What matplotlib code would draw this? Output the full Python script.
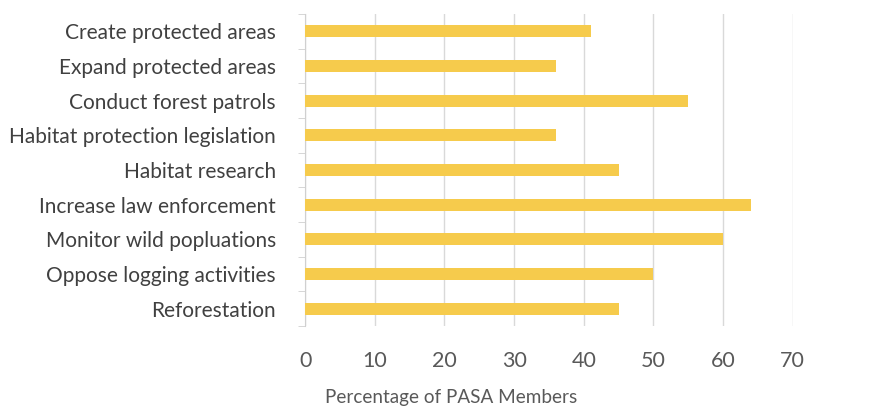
import matplotlib.pyplot as plt

# share of PASA members supporting each habitat action

actions = ['Create protected areas', 'Expand protected areas', 'Conduct forest patrols',
           'Habitat protection legislation', 'Habitat research', 'Increase law enforcement',
           'Monitor wild popluations', 'Oppose logging activities', 'Reforestation']
percent = [41, 36, 55, 36, 45, 64, 60, 50, 45]

plt.rcParams['font.family'] = ['Lato', 'DejaVu Sans']

fig = plt.figure(figsize=(8.72, 4.12), dpi=100)
ax = fig.add_axes([0.35, 0.209, 0.559, 0.757])

ypos = list(range(len(actions)))
ax.barh(ypos, percent, height=0.35, color='#f6cb4c', zorder=3)

ax.set_ylim(len(actions) - 0.5, -0.5)
ax.set_yticks(ypos)
ax.set_yticklabels(actions, fontsize=15, color='#404040')
ax.set_yticks([y - 0.5 for y in range(len(actions) + 1)], minor=True)
ax.tick_params(axis='y', which='major', length=0, pad=21)
ax.tick_params(axis='y', which='minor', length=5, color='#d0d0d0')

ax.set_xlim(0, 70)
ax.set_xticks(range(0, 71, 10))
ax.tick_params(axis='x', length=0, pad=18, labelsize=15.5, labelcolor='#595959')
ax.grid(axis='x', color='#d9d9d9', linewidth=1, zorder=0)

for s in ['top', 'right', 'bottom']:
    ax.spines[s].set_visible(False)
ax.spines['left'].set_color('#d0d0d0')

ax.set_xlabel('Percentage of PASA Members', fontsize=13.6, color='#595959')
ax.xaxis.set_label_coords(451 / 872, 1 - 398 / 412, transform=fig.transFigure)
ax.xaxis.label.set_va('center')

fig.savefig('out.png', dpi=100)
